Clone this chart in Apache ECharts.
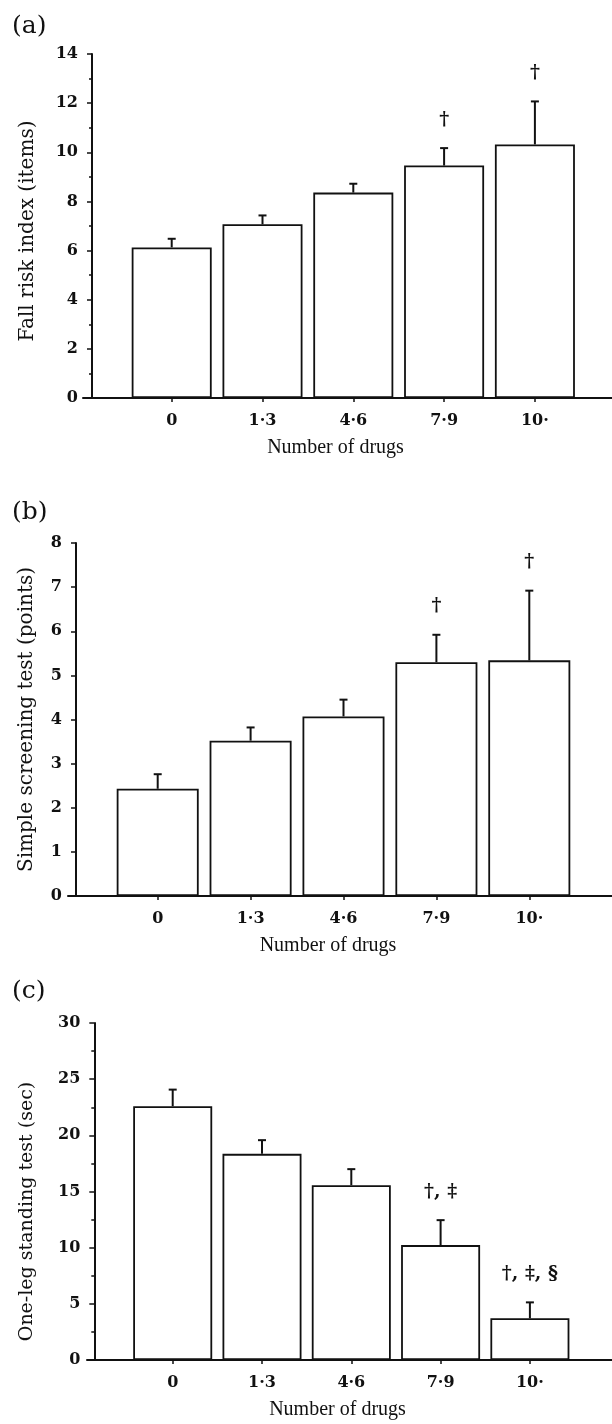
<!DOCTYPE html>
<html>
<head>
<meta charset="utf-8">
<script src="https://cdn.jsdelivr.net/npm/echarts@6/dist/echarts.min.js"></script>
<style>
  html, body { margin: 0; padding: 0; background: #fff; }
  #chart { width: 612px; height: 1424px; }
</style>
</head>
<body>
<div id="chart"></div>
<script>
// data
const categories = ['0', '1·3', '4·6', '7·9', '10·'];

const fallRisk = [6.13, 7.07, 8.36, 9.46, 10.32];
const fallRiskErr = [0.35, 0.36, 0.36, 0.71, 1.75];
const fallRiskSig = ['', '', '', '†', '†'];

const screening = [2.43, 3.52, 4.07, 5.30, 5.34];
const screeningErr = [0.33, 0.30, 0.38, 0.62, 1.58];
const screeningSig = ['', '', '', '†', '†'];

const oneLeg = [22.59, 18.35, 15.56, 10.23, 3.71];
const oneLegErr = [1.48, 1.22, 1.43, 2.22, 1.42];
const oneLegSig = ['', '', '', '†, ‡', '†, ‡, §'];

const INK = '#111';
const SERIF = '"DejaVu Serif", serif';

// layout of each panel (pixels)
const panels = [
  { label: '(a)', labelTop: 14, yName: 'Fall risk index (items)', yMax: 14, yStep: 2, minor: true,
    values: fallRisk, err: fallRiskErr, sig: fallRiskSig,
    top: 54, bottom: 398, axisStart: 83, yAxisX: 92, c0: 171.7, step: 90.8, barW: 80,
    nameGap: 54, nameSize: 20, nameShift: 5 },
  { label: '(b)', labelTop: 500, yName: 'Simple screening test (points)', yMax: 8, yStep: 1, minor: false,
    values: screening, err: screeningErr, sig: screeningSig,
    top: 543, bottom: 896, axisStart: 68, yAxisX: 76, c0: 157.7, step: 92.9, barW: 82,
    nameGap: 39, nameSize: 20, nameShift: 0 },
  { label: '(c)', labelTop: 979, yName: 'One-leg standing test (sec)', yMax: 30, yStep: 5, minor: true,
    values: oneLeg, err: oneLegErr, sig: oneLegSig,
    top: 1023, bottom: 1360, axisStart: 87, yAxisX: 94.3, c0: 172.7, step: 89.3, barW: 79,
    nameGap: 58, nameSize: 19, nameShift: 20 }
];

const chart = echarts.init(document.getElementById('chart'));
const tickIdx = categories.map((c, i) => i);

const option = {
  animation: false,
  backgroundColor: '#fff',
  title: panels.map(p => ({
    text: p.label, left: 12, top: p.labelTop, padding: 0,
    textStyle: { fontFamily: SERIF, fontSize: 25, fontWeight: 'normal', color: INK }
  })),
  grid: panels.map(p => ({
    left: p.axisStart, right: 0, top: p.top, height: p.bottom - p.top,
    containLabel: false, outerBoundsMode: 'none'
  })),
  xAxis: panels.map((p, i) => ({
    type: 'value', gridIndex: i,
    min: (p.axisStart - p.c0) / p.step,
    max: (612 - p.c0) / p.step,
    name: 'Number of drugs', nameLocation: 'middle', nameGap: 40,
    nameTextStyle: { fontFamily: '"Liberation Serif", serif', fontSize: 20, color: INK, padding: [0, 24, 0, 0] },
    axisLine: { show: true, onZero: false, lineStyle: { color: INK, width: 2 } },
    axisTick: { show: true, customValues: tickIdx, length: 4, lineStyle: { color: INK, width: 1.5 } },
    axisLabel: { customValues: tickIdx, formatter: v => categories[Math.round(v)], margin: 15,
      fontFamily: SERIF, fontSize: 16, fontWeight: 'bold', color: INK },
    splitLine: { show: false }
  })),
  yAxis: panels.map((p, i) => ({
    type: 'value', gridIndex: i, min: 0, max: p.yMax, interval: p.yStep,
    offset: -(p.yAxisX - p.axisStart),
    name: p.yName, nameLocation: 'middle', nameGap: p.nameGap, nameRotate: 90,
    nameTextStyle: { fontFamily: SERIF, fontSize: p.nameSize, color: INK, padding: [0, p.nameShift * 2, 0, 0] },
    axisLine: { show: true, onZero: false, lineStyle: { color: INK, width: 2 } },
    axisTick: { show: true, length: 5, lineStyle: { color: INK, width: 1.5 } },
    minorTick: { show: p.minor, splitNumber: 2, length: 3, lineStyle: { color: INK, width: 1.5 } },
    axisLabel: { margin: 14, fontFamily: SERIF, fontSize: 16, fontWeight: 'bold', color: INK },
    splitLine: { show: false },
    minorSplitLine: { show: false }
  })),
  series: []
};

panels.forEach((p, i) => {
  option.series.push({
    type: 'bar', xAxisIndex: i, yAxisIndex: i,
    barWidth: p.barW,
    itemStyle: { color: '#fff', borderColor: INK, borderWidth: 1.8 },
    data: p.values.map((v, k) => [k, v])
  });
  option.series.push({
    type: 'custom', xAxisIndex: i, yAxisIndex: i, z: 5,
    data: p.values.map((v, k) => [k, v, p.err[k]]),
    renderItem: (params, api) => {
      const x = api.value(0), v = api.value(1), e = api.value(2);
      const base = api.coord([x, v]);
      const top = api.coord([x, v + e]);
      const children = [
        { type: 'line', shape: { x1: base[0], y1: base[1], x2: top[0], y2: top[1] },
          style: { stroke: INK, lineWidth: 2 } },
        { type: 'line', shape: { x1: top[0] - 4, y1: top[1], x2: top[0] + 4, y2: top[1] },
          style: { stroke: INK, lineWidth: 2 } }
      ];
      const s = p.sig[params.dataIndex];
      if (s) {
        children.push({ type: 'text', x: top[0], y: top[1] - 19,
          style: { text: s, align: 'center', verticalAlign: 'bottom',
            font: 'bold 19px ' + SERIF, fill: INK } });
      }
      return { type: 'group', children: children };
    }
  });
});

chart.setOption(option);
</script>
</body>
</html>
